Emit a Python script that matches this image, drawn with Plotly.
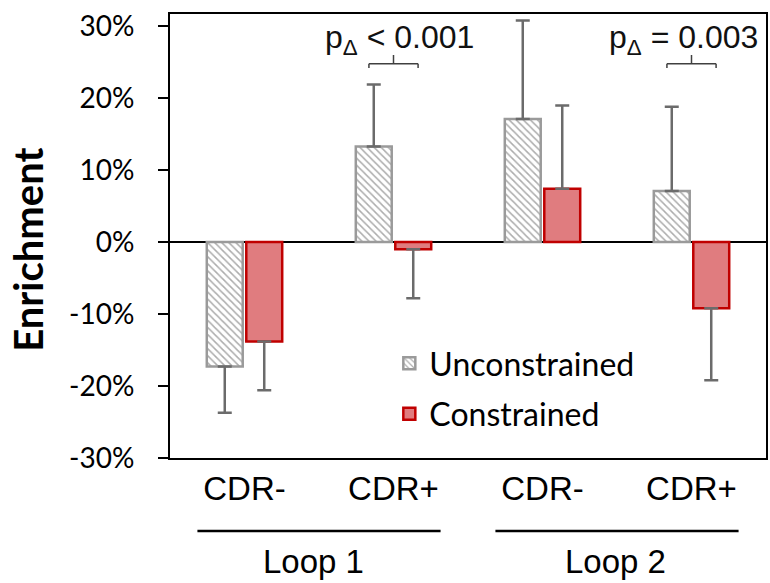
import plotly.graph_objects as go

# ---- data ----
categories = ["CDR-", "CDR+", "CDR-", "CDR+"]
loops = ["Loop 1", "Loop 2"]
unconstrained = [-17.3, 13.3, 17.1, 7.1]
unconstrained_err = [6.4, 8.6, 13.7, 11.7]
constrained = [-13.8, -1.0, 7.4, -9.2]
constrained_err = [6.8, 6.8, 11.6, 10.0]
yticks = [-30, -20, -10, 0, 10, 20, 30]
ytick_labels = ["-30%", "-20%", "-10%", "0%", "10%", "20%", "30%"]
p_labels = ["p<sub>Δ</sub> &lt; 0.001", "p<sub>Δ</sub> = 0.003"]
p_positions = [1, 3]

xs = list(range(len(categories)))


def split_err(vals, errs):
    up = [e if v >= 0 else 0 for v, e in zip(vals, errs)]
    down = [e if v < 0 else 0 for v, e in zip(vals, errs)]
    return up, down


u_up, u_down = split_err(unconstrained, unconstrained_err)
c_up, c_down = split_err(constrained, constrained_err)

err_style = dict(type="data", symmetric=False, color="#6b6b6b", thickness=2.5, width=7)

fig = go.Figure()
fig.add_trace(go.Bar(
    x=xs, y=unconstrained, name="Unconstrained", legendgroup="u",
    marker=dict(color="white",
                pattern=dict(shape="\\", fgcolor="#5a5a5a", bgcolor="white", size=5, solidity=0.3),
                line=dict(color="#9a9a9a", width=2.5)),
    error_y=dict(array=u_up, arrayminus=u_down, **err_style),
))
fig.add_trace(go.Bar(
    x=xs, y=constrained, name="Constrained", legendgroup="c",
    marker=dict(color="#e07c7f", line=dict(color="#c00000", width=2.5)),
    error_y=dict(array=c_up, arrayminus=c_down, **err_style),
))

shapes = []
annotations = []
bracket_y = 24.8
for i, (pos, lab) in enumerate(zip(p_positions, p_labels)):
    x0, x1 = pos - 0.165, pos + 0.165
    ls = dict(color="#404040", width=1.5)
    shapes += [
        dict(type="line", xref="x", yref="y", x0=x0, x1=x1, y0=bracket_y, y1=bracket_y, line=ls),
        dict(type="line", xref="x", yref="y", x0=x0, x1=x0, y0=bracket_y, y1=bracket_y - 0.6, line=ls),
        dict(type="line", xref="x", yref="y", x0=x1, x1=x1, y0=bracket_y, y1=bracket_y - 0.6, line=ls),
        dict(type="line", xref="x", yref="y", x0=pos, x1=pos, y0=bracket_y, y1=bracket_y + 1.2, line=ls),
    ]
    annotations.append(dict(text=lab, x=pos, y=28.2, xref="x", yref="y", showarrow=False,
                            xanchor="center", yanchor="middle", xshift=[6, -8][i],
                            font=dict(family="Liberation Sans", size=32, color="#111111")))

for k, lp in enumerate(loops):
    c = 2 * k + 0.5
    shapes.append(dict(type="line", xref="x", yref="paper", x0=c - 0.816, x1=c + 0.816,
                       y0=-0.1644, y1=-0.1644, line=dict(color="black", width=2.5)))
    annotations.append(dict(text=lp, x=c, y=-0.232, xref="x", yref="paper", showarrow=False,
                            xanchor="center", yanchor="middle", xshift=[-6, -2][k],
                            font=dict(family="Liberation Sans", size=33, color="black")))

annotations.append(dict(text="<b>Enrichment</b>", x=-0.2375, y=0.47, xref="paper", yref="paper",
                        showarrow=False, textangle=-90, xanchor="center", yanchor="middle",
                        font=dict(family="Lato", size=40, color="black")))

fig.update_layout(
    width=770, height=583,
    margin=dict(l=170, r=2, t=14, b=125),
    paper_bgcolor="white", plot_bgcolor="white",
    barmode="group", bargap=0.47, bargroupgap=0.09,
    showlegend=True,
    legend=dict(x=0.368, y=0.275, xanchor="left", yanchor="top",
                font=dict(family="Lato", size=32, color="black"),
                tracegroupgap=6, bgcolor="rgba(0,0,0,0)"),
    shapes=shapes, annotations=annotations,
    xaxis=dict(tickvals=xs, ticktext=categories, range=[-0.5, len(xs) - 0.5],
               showline=True, linecolor="black", linewidth=2, mirror=True,
               ticks="", showgrid=False, zeroline=False,
               tickfont=dict(family="Liberation Sans", size=33, color="black")),
    yaxis=dict(range=[-30, 31.7], tickvals=yticks, ticktext=ytick_labels,
               showline=True, linecolor="black", linewidth=2, mirror=True,
               ticks="outside", ticklen=10, tickwidth=2, tickcolor="black",
               ticklabelstandoff=18,
               showgrid=False, zeroline=True, zerolinecolor="black", zerolinewidth=2,
               tickfont=dict(family="Lato", size=28, color="black")),
)

fig.write_html("out.html")
